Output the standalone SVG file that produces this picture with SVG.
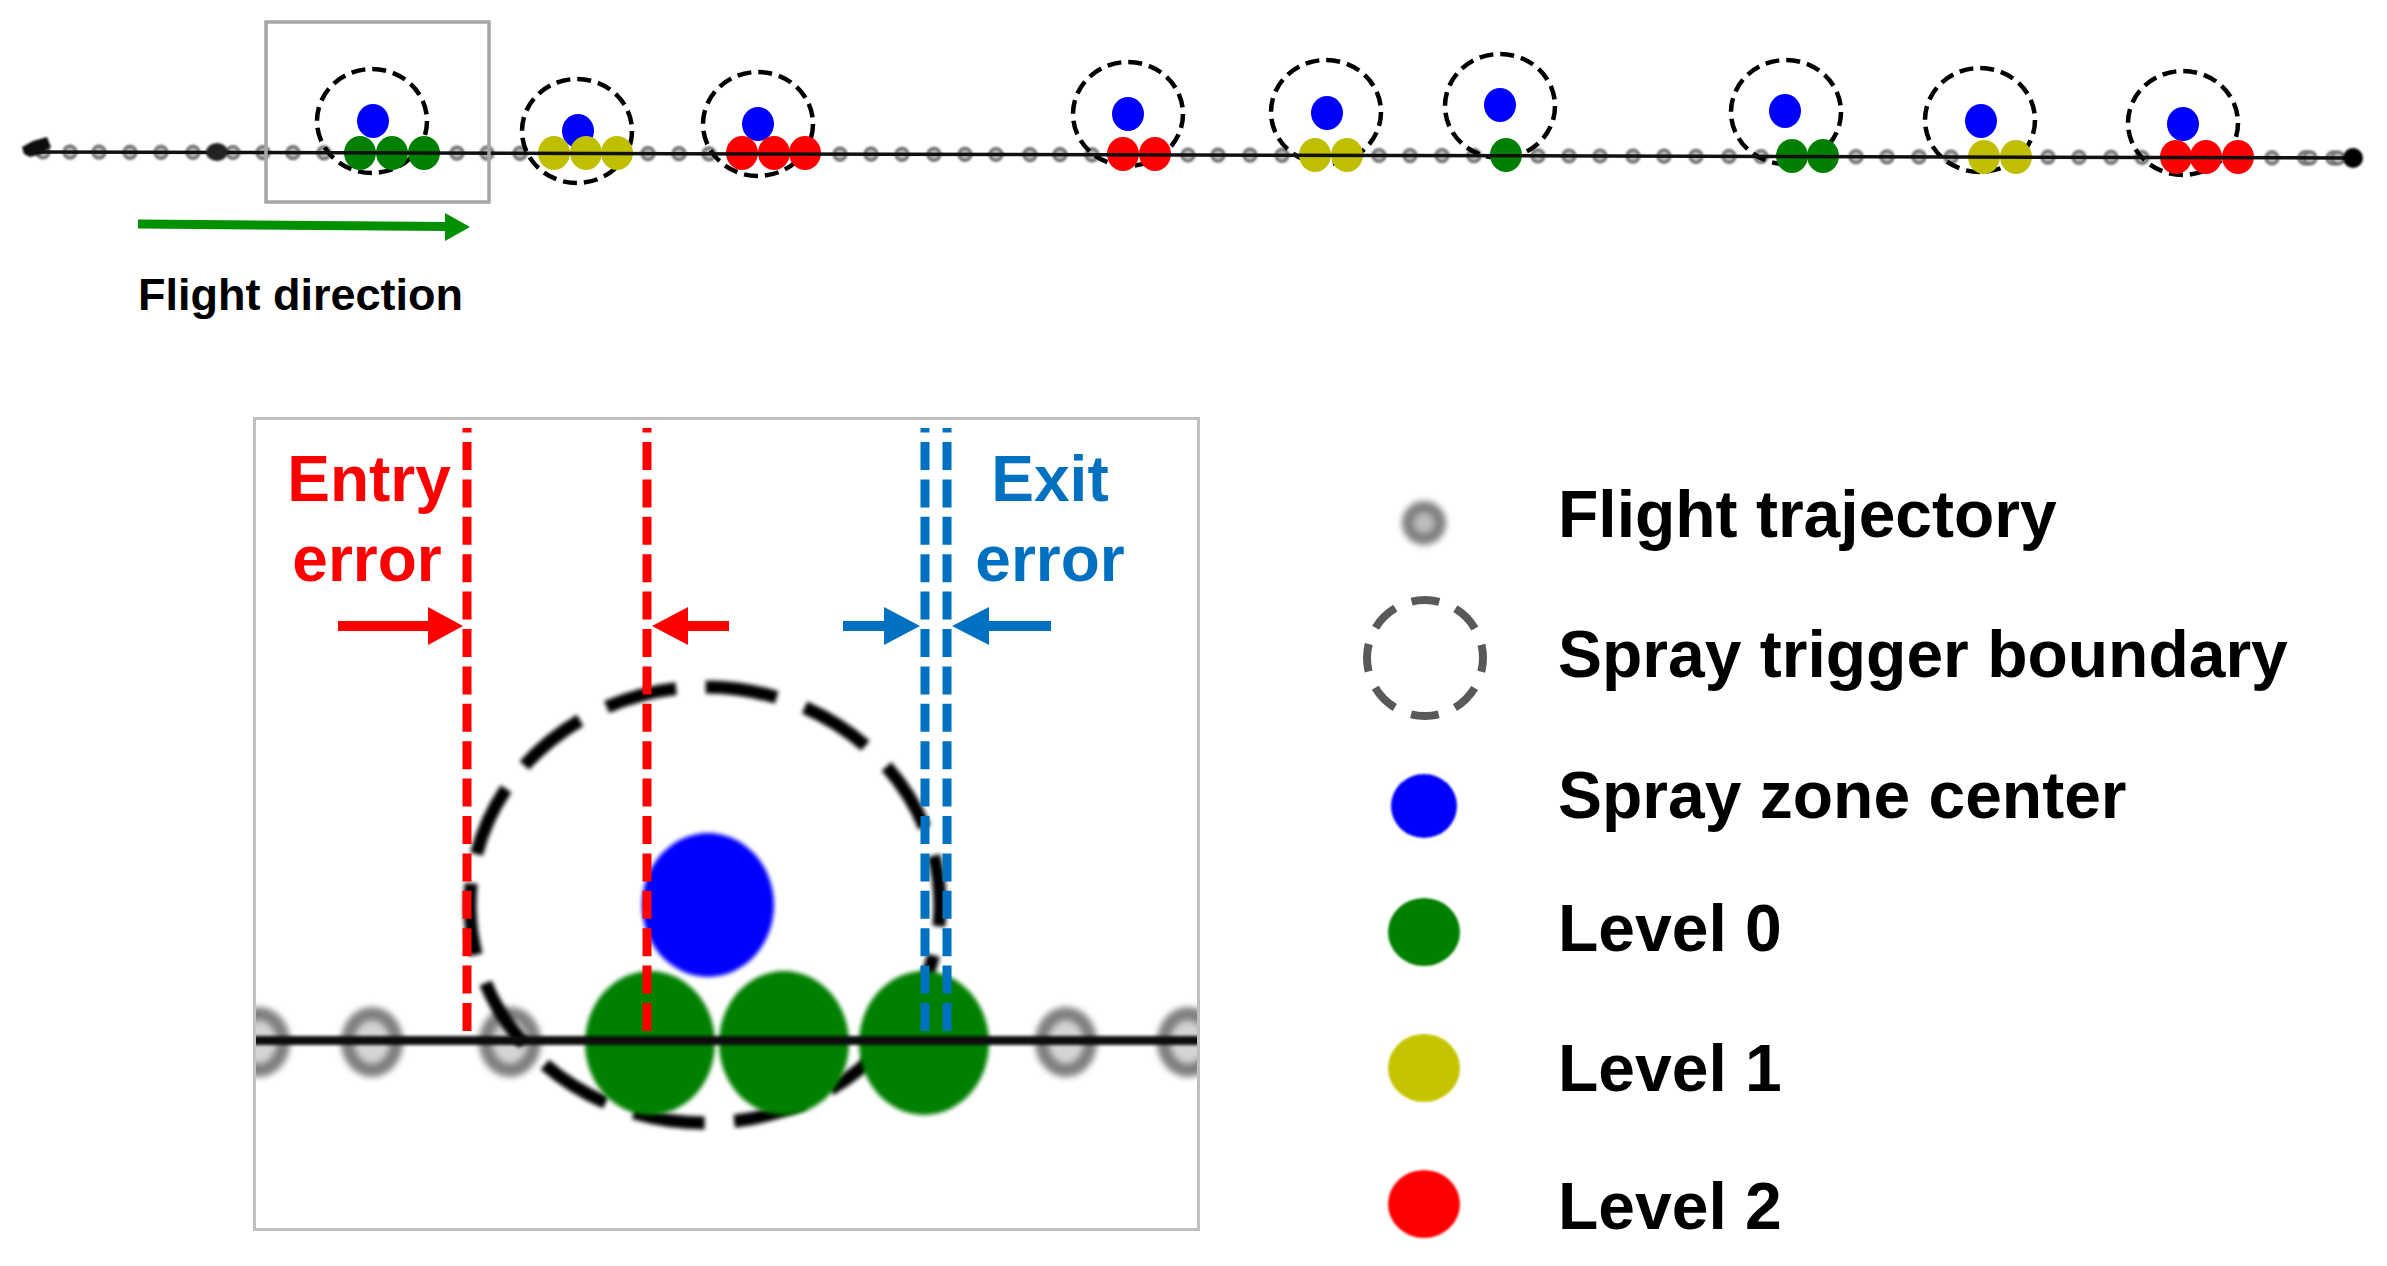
<svg xmlns="http://www.w3.org/2000/svg" xmlns:xlink="http://www.w3.org/1999/xlink" width="2387" height="1266" viewBox="0 0 2387 1266">
<style>
.txt{font-family:"Liberation Sans",Arial,sans-serif;font-weight:bold}
.zone{fill:none;stroke:#000;stroke-width:4.5;stroke-dasharray:14 7}
.blue{fill:#0000ff}
.g{fill:#008000}
.y{fill:#bfbf00}
.r{fill:#ff0000}
.traj{stroke:#111;stroke-width:3.5;fill:none}
.vr{stroke:#ff0000;stroke-width:9;stroke-dasharray:28 9.4;fill:none}
.vb{stroke:#0070c0;stroke-width:9;stroke-dasharray:28 9.4;fill:none}
</style>
<defs>
<filter id="b1" x="-50%" y="-50%" width="200%" height="200%"><feGaussianBlur stdDeviation="1"/></filter>
<filter id="b2" x="-20%" y="-20%" width="140%" height="140%"><feGaussianBlur stdDeviation="2"/></filter>
<filter id="b3" x="-50%" y="-50%" width="200%" height="200%"><feGaussianBlur stdDeviation="3"/></filter>
<filter id="bl" filterUnits="userSpaceOnUse" x="240" y="1020" width="980" height="40"><feGaussianBlur stdDeviation="1.6"/></filter>
<g id="ring"><circle cx="0" cy="0" r="6" fill="#bdbdbd" stroke="#6e6e6e" stroke-width="3.2" filter="url(#b1)"/></g>
<g id="bring"><ellipse cx="0" cy="0" rx="24" ry="28" fill="#d4d4d4" stroke="#808080" stroke-width="14" filter="url(#b3)"/></g>
<clipPath id="insetClip"><rect x="256" y="420" width="941" height="808"/></clipPath>
</defs>
<rect width="2387" height="1266" fill="#fff"/>

<g id="trajectory-points">
<use xlink:href="#ring" x="43" y="152"/><use xlink:href="#ring" x="70" y="152.1"/><use xlink:href="#ring" x="99" y="152.2"/><use xlink:href="#ring" x="130" y="152.3"/><use xlink:href="#ring" x="161" y="152.3"/><use xlink:href="#ring" x="193" y="152.4"/><use xlink:href="#ring" x="233" y="152.5"/><use xlink:href="#ring" x="263" y="152.6"/><use xlink:href="#ring" x="293" y="152.7"/><use xlink:href="#ring" x="324" y="152.8"/><use xlink:href="#ring" x="457" y="153.1"/><use xlink:href="#ring" x="487" y="153.2"/><use xlink:href="#ring" x="520" y="153.3"/><use xlink:href="#ring" x="648" y="153.6"/><use xlink:href="#ring" x="679" y="153.7"/><use xlink:href="#ring" x="709" y="153.8"/><use xlink:href="#ring" x="840" y="154.1"/><use xlink:href="#ring" x="871" y="154.2"/><use xlink:href="#ring" x="902" y="154.3"/><use xlink:href="#ring" x="934" y="154.4"/><use xlink:href="#ring" x="965" y="154.4"/><use xlink:href="#ring" x="996" y="154.5"/><use xlink:href="#ring" x="1030" y="154.6"/><use xlink:href="#ring" x="1060" y="154.7"/><use xlink:href="#ring" x="1092" y="154.8"/><use xlink:href="#ring" x="1188" y="155"/><use xlink:href="#ring" x="1218" y="155.1"/><use xlink:href="#ring" x="1250" y="155.2"/><use xlink:href="#ring" x="1282" y="155.3"/><use xlink:href="#ring" x="1379" y="155.5"/><use xlink:href="#ring" x="1410" y="155.6"/><use xlink:href="#ring" x="1442" y="155.6"/><use xlink:href="#ring" x="1474" y="155.7"/><use xlink:href="#ring" x="1538" y="155.9"/><use xlink:href="#ring" x="1569" y="156"/><use xlink:href="#ring" x="1600" y="156"/><use xlink:href="#ring" x="1633" y="156.1"/><use xlink:href="#ring" x="1664" y="156.2"/><use xlink:href="#ring" x="1696" y="156.3"/><use xlink:href="#ring" x="1729" y="156.4"/><use xlink:href="#ring" x="1761" y="156.5"/><use xlink:href="#ring" x="1856" y="156.7"/><use xlink:href="#ring" x="1887" y="156.8"/><use xlink:href="#ring" x="1919" y="156.9"/><use xlink:href="#ring" x="1951" y="157"/><use xlink:href="#ring" x="2048" y="157.2"/><use xlink:href="#ring" x="2079" y="157.3"/><use xlink:href="#ring" x="2111" y="157.4"/><use xlink:href="#ring" x="2142" y="157.5"/><use xlink:href="#ring" x="2272" y="157.8"/><use xlink:href="#ring" x="2305" y="157.9"/><use xlink:href="#ring" x="2310" y="157.9"/><use xlink:href="#ring" x="2333" y="158"/><use xlink:href="#ring" x="2338" y="158"/>
</g>

<g id="zone1"><ellipse class="zone" cx="372" cy="121" rx="55" ry="52"/><ellipse class="blue" cx="373" cy="121" rx="16" ry="17"/><ellipse class="g" cx="360" cy="153" rx="16" ry="17"/><ellipse class="g" cx="392" cy="153" rx="16" ry="17"/><ellipse class="g" cx="424" cy="153" rx="16" ry="17"/></g>
<g id="zone2"><ellipse class="zone" cx="577" cy="131" rx="55" ry="52"/><ellipse class="blue" cx="578" cy="131" rx="16" ry="17"/><ellipse class="y" cx="554" cy="153" rx="16" ry="17"/><ellipse class="y" cx="586" cy="153" rx="16" ry="17"/><ellipse class="y" cx="617" cy="153" rx="16" ry="17"/></g>
<g id="zone3"><ellipse class="zone" cx="758" cy="124" rx="55" ry="52"/><ellipse class="blue" cx="758" cy="124" rx="16" ry="17"/><ellipse class="r" cx="742" cy="153" rx="16" ry="17"/><ellipse class="r" cx="774" cy="153" rx="16" ry="17"/><ellipse class="r" cx="805" cy="153" rx="16" ry="17"/></g>
<g id="zone4"><ellipse class="zone" cx="1128" cy="114" rx="55" ry="52"/><ellipse class="blue" cx="1128" cy="114" rx="16" ry="17"/><ellipse class="r" cx="1123" cy="154" rx="16" ry="17"/><ellipse class="r" cx="1155" cy="154" rx="16" ry="17"/></g>
<g id="zone5"><ellipse class="zone" cx="1326" cy="112" rx="55" ry="52"/><ellipse class="blue" cx="1327" cy="113" rx="16" ry="17"/><ellipse class="y" cx="1315" cy="155" rx="16" ry="17"/><ellipse class="y" cx="1347" cy="155" rx="16" ry="17"/></g>
<g id="zone6"><ellipse class="zone" cx="1500" cy="106" rx="55" ry="52"/><ellipse class="blue" cx="1500" cy="105" rx="16" ry="17"/><ellipse class="g" cx="1506" cy="155" rx="16" ry="17"/></g>
<g id="zone7"><ellipse class="zone" cx="1786" cy="112" rx="55" ry="52"/><ellipse class="blue" cx="1785" cy="111" rx="16" ry="17"/><ellipse class="g" cx="1792" cy="156" rx="16" ry="17"/><ellipse class="g" cx="1823" cy="156" rx="16" ry="17"/></g>
<g id="zone8"><ellipse class="zone" cx="1980" cy="120" rx="55" ry="52"/><ellipse class="blue" cx="1981" cy="121" rx="16" ry="17"/><ellipse class="y" cx="1984" cy="157" rx="16" ry="17"/><ellipse class="y" cx="2016" cy="157" rx="16" ry="17"/></g>
<g id="zone9"><ellipse class="zone" cx="2183" cy="123" rx="55" ry="52"/><ellipse class="blue" cx="2183" cy="124" rx="16" ry="17"/><ellipse class="r" cx="2176" cy="157" rx="16" ry="17"/><ellipse class="r" cx="2206" cy="157" rx="16" ry="17"/><ellipse class="r" cx="2238" cy="157" rx="16" ry="17"/></g>

<g id="connectors">
<line class="traj" x1="30" y1="152" x2="2353" y2="158"/>
<path d="M22,147 L33,141 L47,137 L51,147 L41,154 L30,157 L24,154 Z" fill="#111" filter="url(#b1)"/>
<ellipse cx="217" cy="152" rx="11" ry="9" fill="#222" filter="url(#b1)"/>
<circle cx="2353" cy="158" r="10" fill="#000" filter="url(#b1)"/>
<line x1="138" y1="224" x2="448" y2="226.5" stroke="#009000" stroke-width="9"/>
<polygon points="445,213 470,227 445,241" fill="#009000"/>
</g>

<g id="zoom-box"><rect x="266" y="22" width="223" height="180" fill="none" stroke="#a6a6a6" stroke-width="3.5"/></g>

<g id="flight-direction-label"><text class="txt" x="138" y="310" font-size="45" fill="#000">Flight direction</text></g>

<g id="inset">
<rect x="254.5" y="418.5" width="944" height="811" fill="#fff" stroke="#bfbfbf" stroke-width="3"/>
<g clip-path="url(#insetClip)">
<use xlink:href="#bring" x="259" y="1042"/>
<use xlink:href="#bring" x="372" y="1042"/>
<use xlink:href="#bring" x="510" y="1042"/>
<use xlink:href="#bring" x="1066" y="1042"/>
<use xlink:href="#bring" x="1188" y="1042"/>
<ellipse cx="705" cy="905" rx="235" ry="218" fill="none" stroke="#000" stroke-width="13" stroke-dasharray="72 29.7" stroke-dashoffset="50.7" filter="url(#b2)"/>
<ellipse cx="708" cy="905" rx="66" ry="72" fill="#0000ff" filter="url(#b2)"/>
<ellipse cx="650" cy="1043" rx="65" ry="72" fill="#008000" filter="url(#b2)"/>
<ellipse cx="784" cy="1043" rx="65" ry="72" fill="#008000" filter="url(#b2)"/>
<ellipse cx="924" cy="1043" rx="65" ry="72" fill="#008000" filter="url(#b2)"/>
<rect x="245" y="1036" width="965" height="9" fill="#111" filter="url(#bl)"/>
</g>
<path class="vr" d="M467,1031 V428"/>
<path class="vr" d="M647,1031 V428"/>
<path class="vb" d="M925,1031 V428"/>
<path class="vb" d="M947,1031 V428"/>
<line x1="338" y1="626" x2="432" y2="626" stroke="#ff0000" stroke-width="10"/>
<polygon points="428,607 463,626 428,645" fill="#ff0000"/>
<line x1="684" y1="626" x2="729" y2="626" stroke="#ff0000" stroke-width="10"/>
<polygon points="688,607 652,626 688,645" fill="#ff0000"/>
<line x1="843" y1="626" x2="888" y2="626" stroke="#0070c0" stroke-width="10"/>
<polygon points="884,607 920,626 884,645" fill="#0070c0"/>
<line x1="985" y1="626" x2="1051" y2="626" stroke="#0070c0" stroke-width="10"/>
<polygon points="989,607 952,626 989,645" fill="#0070c0"/>
<text class="txt" x="369" y="501" font-size="64" fill="#ff0000" text-anchor="middle">Entry</text>
<text class="txt" x="367" y="581" font-size="64" fill="#ff0000" text-anchor="middle">error</text>
<text class="txt" x="1050" y="501" font-size="64" fill="#0070c0" text-anchor="middle">Exit</text>
<text class="txt" x="1050" y="581" font-size="64" fill="#0070c0" text-anchor="middle">error</text>
</g>

<g id="legend">
<g id="legend-trajectory"><circle cx="1424" cy="523" r="16" fill="#bdbdbd" stroke="#808080" stroke-width="12" filter="url(#b3)"/><text class="txt" x="1558" y="537" font-size="66">Flight trajectory</text></g>
<g id="legend-boundary"><circle cx="1425" cy="658" r="58" fill="none" stroke="#595959" stroke-width="8" stroke-dasharray="28 17.55" stroke-dashoffset="14"/><text class="txt" x="1558" y="677" font-size="66">Spray trigger boundary</text></g>
<g id="legend-center"><ellipse cx="1424" cy="806" rx="33" ry="32" fill="#0000ff" filter="url(#b1)"/><text class="txt" x="1558" y="818" font-size="66">Spray zone center</text></g>
<g id="legend-level0"><ellipse cx="1424" cy="932" rx="36" ry="34" fill="#008000" filter="url(#b1)"/><text class="txt" x="1558" y="951" font-size="66">Level 0</text></g>
<g id="legend-level1"><ellipse cx="1424" cy="1068" rx="36" ry="34" fill="#c4c400" filter="url(#b1)"/><text class="txt" x="1558" y="1091" font-size="66">Level 1</text></g>
<g id="legend-level2"><ellipse cx="1424" cy="1204" rx="36" ry="34" fill="#ff0000" filter="url(#b1)"/><text class="txt" x="1558" y="1229" font-size="66">Level 2</text></g>
</g>
</svg>
